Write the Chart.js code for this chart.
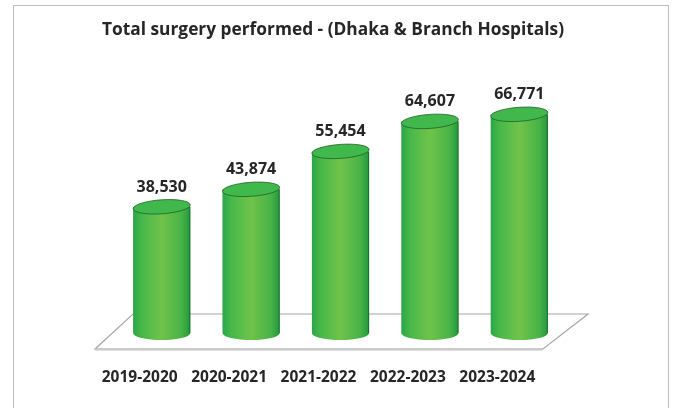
<!DOCTYPE html>
<html>
<head>
<meta charset="utf-8">
<script src="https://cdn.jsdelivr.net/npm/chart.js@4/dist/chart.umd.min.js"></script>
<style>
  html, body { margin: 0; padding: 0; background: #fff; }
  canvas { display: block; }
</style>
</head>
<body>
<canvas id="chart" width="675" height="408"></canvas>
<script>
const titleText = "Total surgery performed - (Dhaka & Branch Hospitals)";
const years = ["2019-2020", "2020-2021", "2021-2022", "2022-2023", "2023-2024"];
const surgeries = [38530, 43874, 55454, 64607, 66771];
const yMin = 0;
const yMax = 80000;

const FONT = "'Open Sans', Lato, sans-serif";
const TEXT = "#262626";

// outer frame
const framePlugin = {
  id: "frame",
  beforeDraw(chart) {
    const c = chart.ctx;
    c.save();
    c.strokeStyle = "#bfbfbf";
    c.lineWidth = 1;
    c.strokeRect(13.5, 5.5, 655, 420);
    c.restore();
  }
};

// 3d floor under the bars
const floorPlugin = {
  id: "floor",
  beforeDatasetsDraw(chart) {
    const a = chart.chartArea;
    const base = chart.scales.y.getPixelForValue(0);
    const c = chart.ctx;
    c.save();
    c.beginPath();
    c.moveTo(a.left - 22, base + 16);
    c.lineTo(a.right - 21, base + 16);
    c.lineTo(a.right + 24, base - 19);
    c.lineTo(a.left + 16, base - 19);
    c.closePath();
    c.fillStyle = "#ffffff";
    c.fill();
    c.strokeStyle = "#a6a6a6";
    c.lineWidth = 1.2;
    c.stroke();
    c.beginPath();
    c.moveTo(a.left - 22, base + 16.5);
    c.lineTo(a.right - 21, base + 16.5);
    c.strokeStyle = "#c8c8c8";
    c.lineWidth = 2;
    c.stroke();
    c.restore();
  }
};

// draw the bars as cylinders from the bar elements
const cylinderPlugin = {
  id: "cylinders",
  beforeDatasetDraw() { return false; },
  afterDatasetsDraw(chart) {
    const c = chart.ctx;
    const meta = chart.getDatasetMeta(0);
    meta.data.forEach((bar, i) => {
      const { x, y, base, width } = bar.getProps(["x", "y", "base", "width"], true);
      const rx = width / 2, ry = 7;
      const l = x - rx, r = x + rx;
      const g = c.createLinearGradient(l, 0, r, 0);
      g.addColorStop(0, "#2aa548");
      g.addColorStop(0.15, "#46b84a");
      g.addColorStop(0.5, "#70c34a");
      g.addColorStop(0.85, "#47b347");
      g.addColorStop(1, "#22983b");
      c.save();
      // side + bottom curve
      c.beginPath();
      c.moveTo(l, y);
      c.lineTo(l, base);
      c.ellipse(x, base, rx, ry, 0, Math.PI, 0, true);
      c.lineTo(r, y);
      c.closePath();
      c.fillStyle = g;
      c.fill();
      c.beginPath();
      c.moveTo(r - 0.5, y);
      c.lineTo(r - 0.5, base);
      c.strokeStyle = "rgba(20,90,35,0.7)";
      c.lineWidth = 1;
      c.stroke();
      // top
      c.beginPath();
      c.ellipse(x, y, rx, ry, -0.07, 0, Math.PI * 2);
      c.fillStyle = "#40b84b";
      c.fill();
      c.strokeStyle = "#1f5f2a";
      c.lineWidth = 0.8;
      c.stroke();
      // value label
      c.fillStyle = TEXT;
      c.font = "bold 16px " + FONT;
      c.textAlign = "center";
      c.textBaseline = "alphabetic";
      c.fillText(surgeries[i].toLocaleString("en-US"), x, y - ry - 8);
      c.restore();
    });
  }
};

new Chart(document.getElementById("chart"), {
  type: "bar",
  data: {
    labels: years,
    datasets: [{
      label: "Surgeries",
      data: surgeries,
      backgroundColor: "#5cbc48",
      categoryPercentage: 1,
      barPercentage: 0.64
    }]
  },
  options: {
    responsive: false,
    animation: false,
    layout: { padding: { top: 19, bottom: 21, left: 102, right: 111 } },
    plugins: {
      legend: { display: false },
      tooltip: { enabled: false },
      title: {
        display: true,
        text: titleText,
        color: TEXT,
        font: { family: FONT, size: 18, weight: "bold" },
        padding: { top: 0, bottom: 30.4 }
      }
    },
    scales: {
      x: {
        grid: { display: false, drawTicks: false },
        border: { display: false },
        ticks: {
          color: TEXT,
          font: { family: FONT, size: 15.5, weight: "bold" },
          padding: 35,
          labelOffset: -22
        },
        afterFit(scale) { scale.height = 54; }
      },
      y: {
        min: yMin,
        max: yMax,
        grid: { display: false },
        border: { display: false },
        ticks: { display: false },
        afterFit(scale) { scale.width = 15; }
      }
    }
  },
  plugins: [framePlugin, floorPlugin, cylinderPlugin]
});
</script>
</body>
</html>
